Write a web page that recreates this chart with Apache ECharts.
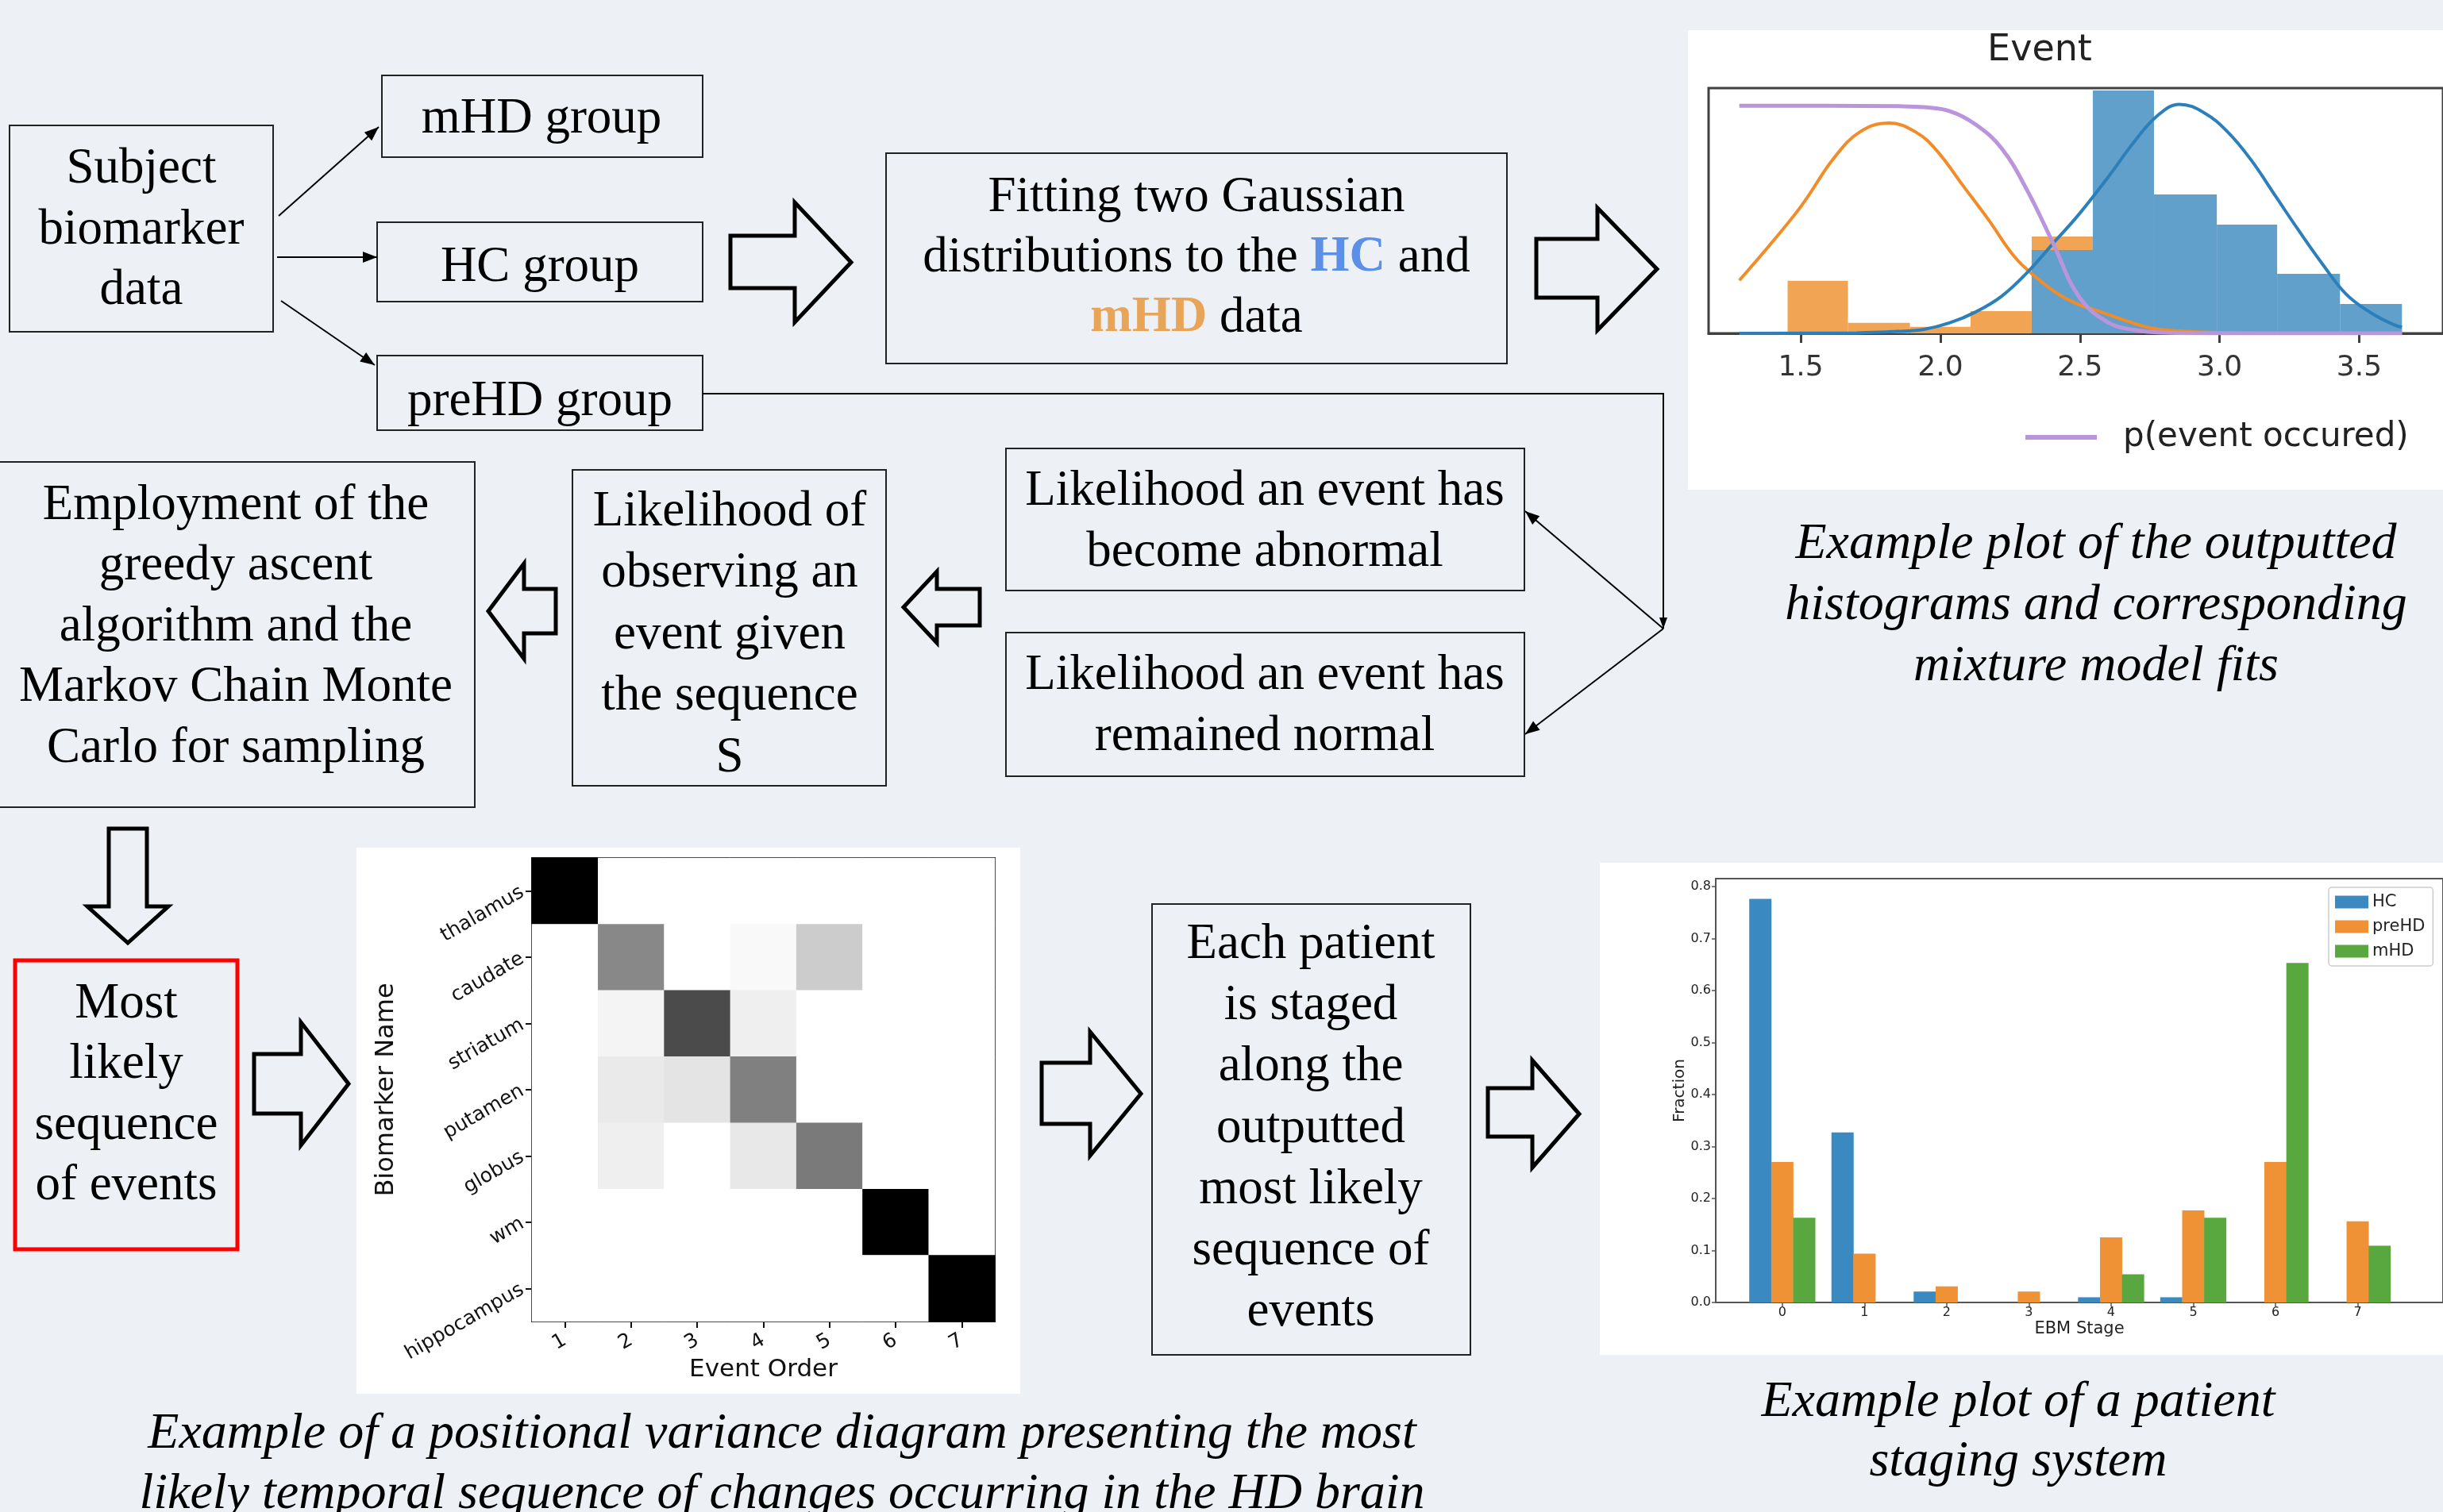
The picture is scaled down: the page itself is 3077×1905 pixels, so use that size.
<!DOCTYPE html>
<html>
<head>
<meta charset="utf-8">
<script src="https://cdn.jsdelivr.net/npm/echarts@6/dist/echarts.min.js"></script>
<style>
  html, body { margin: 0; padding: 0; background: #edf1f6; }
  #main { width: 3077px; height: 1905px; }
</style>
</head>
<body>
<div id="main"></div>
<script>
// ---------- Mixture-model histogram (one biomarker event) ----------
const histTicks = [1.5, 2.0, 2.5, 3.0, 3.5];
const hcBinEdges = [2.327, 2.546, 2.765, 2.990, 3.206, 3.431, 3.653];
const hcBinHeights = [0.34, 0.99, 0.566, 0.443, 0.243, 0.12];
const mhdBinEdges = [1.453, 1.669, 1.891, 2.108, 2.327, 2.546];
const mhdBinHeights = [0.214, 0.043, 0.027, 0.091, 0.395];
const mhdFitCurve = [[1.28, 0.216], [1.386, 0.356], [1.479, 0.485], [1.525, 0.557], [1.617, 0.712], [1.710, 0.820],
  [1.816, 0.858], [1.913, 0.820], [1.988, 0.744], [2.080, 0.604], [2.172, 0.464], [2.265, 0.313], [2.339, 0.232],
  [2.422, 0.16], [2.5, 0.115], [2.555, 0.095], [2.69, 0.042], [2.775, 0.018], [2.944, 0.005], [3.2, 0.0], [3.653, 0.0]];
const hcFitCurve = [[1.28, 0.0], [1.7, 0.002], [1.85, 0.008], [1.941, 0.016], [2.034, 0.043], [2.126, 0.087],
  [2.219, 0.151], [2.311, 0.248], [2.404, 0.367], [2.496, 0.485], [2.606, 0.645], [2.69, 0.775], [2.775, 0.885],
  [2.856, 0.934], [2.944, 0.90], [3.03, 0.82], [3.114, 0.705], [3.2, 0.56], [3.283, 0.42], [3.37, 0.28],
  [3.453, 0.16], [3.54, 0.085], [3.622, 0.036], [3.653, 0.025]];
const pEventCurve = [[1.28, 0.928], [1.6, 0.928], [1.85, 0.926], [1.941, 0.922], [2.034, 0.906], [2.126, 0.852],
  [2.219, 0.755], [2.311, 0.583], [2.404, 0.367], [2.496, 0.15], [2.6, 0.045], [2.7, 0.013], [2.8, 0.003],
  [3.0, 0.0], [3.653, 0.0]];

// ---------- Positional variance diagram ----------
const biomarkers = ['thalamus', 'caudate', 'striatum', 'putamen', 'globus', 'wm', 'hippocampus'];
const eventOrder = ['1', '2', '3', '4', '5', '6', '7'];
const positionalVariance = [
  [1, 0, 0, 0, 0, 0, 0],
  [0, 0.55, 0, 0.05, 0.31, 0, 0],
  [0, 0.09, 0.77, 0.13, 0, 0, 0],
  [0, 0.16, 0.19, 0.58, 0, 0, 0],
  [0, 0.13, 0, 0.17, 0.60, 0, 0],
  [0, 0, 0, 0, 0, 1, 0],
  [0, 0, 0, 0, 0, 0, 1]
];

// ---------- Patient staging ----------
const stages = [0, 1, 2, 3, 4, 5, 6, 7];
const fractionTicks = [0, 0.1, 0.2, 0.3, 0.4, 0.5, 0.6, 0.7, 0.8];
const hcFraction = [0.776, 0.327, 0.021, 0, 0.010, 0.010, 0, 0];
const preHDFraction = [0.270, 0.094, 0.031, 0.021, 0.125, 0.177, 0.270, 0.156];
const mHDFraction = [0.163, 0, 0, 0, 0.054, 0.163, 0.653, 0.109];

// ---------- layout / style constants ----------
const BG = '#edf1f6';
const SERIF = '"Liberation Serif", "Times New Roman", serif';
const SANS = '"DejaVu Sans", sans-serif';
const BOX_FONT = 63, BOX_LH = 76.5, CAPTION_FONT = 64;
const groupOffset = { HC: -0.267, preHD: 0, mHD: 0.267 };
const greys = ['#ffffff', '#f0f0f0', '#d9d9d9', '#bdbdbd', '#969696', '#737373', '#525252', '#252525', '#000000'];

function text(x, y, str, extra) {
  return { type: 'text', x: x, y: y, z: 10,
    style: Object.assign({ text: str, fill: '#000', fontSize: BOX_FONT, fontFamily: SERIF,
      textAlign: 'center', textVerticalAlign: 'middle' }, extra || {}) };
}
function lines(cx, cy, arr, lh, extra) {
  const n = arr.length;
  return arr.map((s, i) => text(cx, cy + (i - (n - 1) / 2) * lh, s, extra));
}
function rect(x, y, w, h, stroke, lw) {
  return { type: 'rect', z: 10, shape: { x: x, y: y, width: w, height: h },
    style: { fill: 'none', stroke: stroke || '#222', lineWidth: lw || 2 } };
}
function panel(x, y, w, h) {
  return { type: 'rect', z: -1, shape: { x: x, y: y, width: w, height: h }, style: { fill: '#ffffff' } };
}
function poly(points) {
  return { type: 'polygon', z: 10, shape: { points: points },
    style: { fill: 'none', stroke: '#000', lineWidth: 5, lineJoin: 'miter' } };
}
function blockRight(x0, xb, xt, by0, by1, hy0, hy1) {
  const m = (hy0 + hy1) / 2;
  return poly([[x0, by0], [xb, by0], [xb, hy0], [xt, m], [xb, hy1], [xb, by1], [x0, by1]]);
}
function blockLeft(xt, xb, x1, by0, by1, hy0, hy1) {
  const m = (hy0 + hy1) / 2;
  return poly([[x1, by0], [xb, by0], [xb, hy0], [xt, m], [xb, hy1], [xb, by1], [x1, by1]]);
}
function blockDown(bx0, bx1, y0, yb, yt, hx0, hx1) {
  const m = (hx0 + hx1) / 2;
  return poly([[bx0, y0], [bx1, y0], [bx1, yb], [hx1, yb], [m, yt], [hx0, yb], [bx0, yb]]);
}
function thinArrow(pts, headLen, headHalf) {
  const out = [{ type: 'polyline', z: 10, shape: { points: pts }, style: { fill: 'none', stroke: '#000', lineWidth: 2 } }];
  const a = pts[pts.length - 2], b = pts[pts.length - 1];
  const dx = b[0] - a[0], dy = b[1] - a[1], L = Math.hypot(dx, dy);
  const ux = dx / L, uy = dy / L, px = -uy, py = ux;
  const hl = headLen || 18, hw = headHalf || 7;
  const bx = b[0] - ux * hl, by = b[1] - uy * hl;
  out.push({ type: 'polygon', z: 10, shape: { points: [b, [bx + px * hw, by + py * hw], [bx - px * hw, by - py * hw]] },
    style: { fill: '#000', stroke: 'none' } });
  return out;
}

const graphics = [].concat(
  // white plot panels
  panel(2126, 38, 960, 579),
  panel(449, 1068, 836, 688),
  panel(2015, 1087, 1070, 620),

  // subject data and the three groups
  rect(12, 158, 332, 260), lines(178, 290, ['Subject', 'biomarker', 'data'], BOX_LH),
  rect(481, 95, 404, 103), text(682, 150, 'mHD group'),
  rect(475, 280, 410, 100), text(680, 337, 'HC group'),
  rect(475, 448, 410, 94), text(680, 506, 'preHD group'),
  thinArrow([[351, 272], [477, 160]]),
  thinArrow([[349, 324], [475, 324]]),
  thinArrow([[354, 379], [472, 460]]),

  // Gaussian fitting
  blockRight(920, 1001, 1072, 297, 363, 255, 406),
  rect(1116, 193, 782, 265),
  text(1507, 249, 'Fitting two Gaussian'),
  text(1507, 325, 'distributions to the {hc|HC} and', {
    rich: { hc: { fill: '#5b8fe8', fontWeight: 'bold', fontSize: BOX_FONT, fontFamily: SERIF } } }),
  text(1507, 401, '{mhd|mHD} data', {
    rich: { mhd: { fill: '#e8a457', fontWeight: 'bold', fontSize: BOX_FONT, fontFamily: SERIF } } }),
  blockRight(1935, 2012, 2087, 301, 375, 262, 416),

  // preHD feed into the two likelihoods
  thinArrow([[885, 496], [2095, 496], [2095, 792]], 14, 5),
  thinArrow([[2095, 792], [1921, 644]]),
  thinArrow([[2095, 792], [1921, 925]]),
  rect(1267, 565, 653, 179), lines(1593, 658, ['Likelihood an event has', 'become abnormal'], BOX_LH),
  rect(1267, 797, 653, 181), lines(1593, 890, ['Likelihood an event has', 'remained normal'], BOX_LH),
  blockLeft(1138, 1180, 1234, 742, 788, 720, 810),
  rect(721, 592, 395, 398),
  lines(919, 800, ['Likelihood of', 'observing an', 'event given', 'the sequence', 'S'], 77.5),
  blockLeft(615, 660, 700, 742, 798, 710, 830),
  rect(-3, 582, 601, 435),
  lines(297, 790, ['Employment of the', 'greedy ascent', 'algorithm and the', 'Markov Chain Monte', 'Carlo for sampling'], BOX_LH),

  // most likely sequence and staging
  blockDown(137, 185, 1044, 1142, 1188, 110, 212),
  rect(19, 1210, 280, 364, '#ff0000', 5),
  lines(159, 1380, ['Most', 'likely', 'sequence', 'of events'], BOX_LH),
  blockRight(320, 379, 439, 1328, 1403, 1288, 1443),
  blockRight(1312, 1373, 1437, 1339, 1416, 1300, 1456),
  rect(1451, 1139, 401, 568),
  lines(1651, 1422, ['Each patient', 'is staged', 'along the', 'outputted', 'most likely', 'sequence of', 'events'], 77.3),
  blockRight(1874, 1930, 1989, 1371, 1432, 1336, 1471),

  // plot title and captions
  text(2569, 64, 'Event', { fontFamily: SANS, fontSize: 46, fill: '#222' }),
  lines(2640, 763, ['Example plot of the outputted', 'histograms and corresponding', 'mixture model fits'], 77,
    { fontStyle: 'italic', fontSize: CAPTION_FONT }),
  lines(985, 1845, ['Example of a positional variance diagram presenting the most',
    'likely temporal sequence of changes occurring in the HD brain'], 76, { fontStyle: 'italic', fontSize: CAPTION_FONT }),
  lines(2542, 1805, ['Example plot of a patient', 'staging system'], 75, { fontStyle: 'italic', fontSize: CAPTION_FONT })
);

function binRenderer(color) {
  return function (params, api) {
    const a = api.coord([api.value(0), api.value(2)]);
    const b = api.coord([api.value(1), 0]);
    return { type: 'rect', shape: { x: a[0], y: a[1], width: b[0] - a[0], height: b[1] - a[1] },
      style: { fill: color } };
  };
}
function barData(values, offset) {
  return values.map((v, i) => [stages[i] + offset, v]);
}

const heatData = [];
positionalVariance.forEach((row, r) => row.forEach((v, c) => heatData.push([c, r, v])));

const chart = echarts.init(document.getElementById('main'), null, { renderer: 'canvas' });
chart.setOption({
  backgroundColor: BG,
  animation: false,
  grid: [
    { left: 2152, top: 111, width: 948, height: 309, show: true, borderColor: '#404040', borderWidth: 3, backgroundColor: 'transparent' },
    { left: 670, top: 1081, width: 583, height: 584, show: true, borderColor: '#111', borderWidth: 2, backgroundColor: 'transparent' },
    { left: 2161, top: 1107, width: 929, height: 534, show: true, borderColor: '#555', borderWidth: 2, backgroundColor: 'transparent' }
  ],
  xAxis: [
    { type: 'value', gridIndex: 0, min: 1.17, max: 3.80, splitLine: { show: false },
      axisLine: { show: true, onZero: false, lineStyle: { color: '#404040', width: 3 } },
      axisTick: { show: true, customValues: histTicks, length: 12, lineStyle: { color: '#404040', width: 3 } },
      axisLabel: { customValues: histTicks, formatter: v => v.toFixed(1), fontSize: 36, fontFamily: SANS, color: '#333', margin: 26 } },
    { type: 'category', gridIndex: 1, data: eventOrder, axisLine: { show: false, onZero: false },
      axisTick: { show: true, alignWithLabel: true, length: 8, lineStyle: { color: '#111', width: 2 } },
      axisLabel: { rotate: 30, fontSize: 25, fontFamily: SANS, color: '#111', margin: 22 },
      name: 'Event Order', nameLocation: 'middle', nameGap: 45,
      nameTextStyle: { fontSize: 31, fontFamily: SANS, color: '#111' } },
    { type: 'value', gridIndex: 2, min: -0.81, max: 8.038, splitLine: { show: false },
      axisLine: { show: true, onZero: false, lineStyle: { color: '#555', width: 2 } },
      axisTick: { show: true, customValues: stages, length: 5, lineStyle: { color: '#555', width: 1.5 } },
      axisLabel: { customValues: stages, fontSize: 16, fontFamily: SANS, color: '#222', margin: 5 },
      name: 'EBM Stage', nameLocation: 'middle', nameGap: 23,
      nameTextStyle: { fontSize: 21, fontFamily: SANS, color: '#222' } }
  ],
  yAxis: [
    { type: 'value', gridIndex: 0, min: 0, max: 1, show: true, axisLine: { show: false, onZero: false }, axisTick: { show: false },
      axisLabel: { show: false }, splitLine: { show: false } },
    { type: 'category', gridIndex: 1, data: biomarkers, inverse: true, axisLine: { show: false, onZero: false },
      axisTick: { show: true, alignWithLabel: true, length: 8, lineStyle: { color: '#111', width: 2 } },
      axisLabel: { rotate: 30, fontSize: 25, fontFamily: SANS, color: '#111', margin: 12 },
      name: 'Biomarker Name', nameLocation: 'middle', nameGap: 165,
      nameTextStyle: { fontSize: 32, fontFamily: SANS, color: '#111' } },
    { type: 'value', gridIndex: 2, min: 0, max: 0.815, splitLine: { show: false },
      axisLine: { show: true, onZero: false, lineStyle: { color: '#555', width: 2 } },
      axisTick: { show: true, customValues: fractionTicks, length: 5, lineStyle: { color: '#555', width: 1.5 } },
      axisLabel: { customValues: fractionTicks, formatter: v => v.toFixed(1), fontSize: 16, fontFamily: SANS, color: '#222', margin: 6 },
      name: 'Fraction', nameLocation: 'middle', nameGap: 32,
      nameTextStyle: { fontSize: 20, fontFamily: SANS, color: '#222' } }
  ],
  legend: [
    { data: [{ name: 'p(event occured)', icon: 'rect' }], left: 2551, top: 530, padding: 0,
      itemWidth: 90, itemHeight: 6, selectedMode: false,
      textStyle: { fontSize: 42, fontFamily: SANS, color: '#222', padding: [0, 0, 0, 28] } },
    { data: ['HC', 'preHD', 'mHD'], orient: 'vertical', left: 2933, top: 1118, icon: 'rect',
      itemWidth: 42, itemHeight: 16, itemGap: 10, padding: [8, 10, 8, 8], selectedMode: false,
      borderColor: '#cccccc', borderWidth: 1.5, borderRadius: 4, backgroundColor: '#ffffff',
      textStyle: { fontSize: 21, fontFamily: SANS, color: '#222' } }
  ],
  visualMap: { show: false, type: 'continuous', seriesIndex: 5, min: 0, max: 1, inRange: { color: greys } },
  series: [
    { name: 'mHD bins', type: 'custom', xAxisIndex: 0, yAxisIndex: 0, clip: true,
      renderItem: binRenderer('#f0a454'), encode: { x: [0, 1], y: 2 },
      data: mhdBinHeights.map((h, i) => [mhdBinEdges[i], mhdBinEdges[i + 1], h]) },
    { name: 'HC bins', type: 'custom', xAxisIndex: 0, yAxisIndex: 0, clip: true,
      renderItem: binRenderer('#61a0cb'), encode: { x: [0, 1], y: 2 },
      data: hcBinHeights.map((h, i) => [hcBinEdges[i], hcBinEdges[i + 1], h]) },
    { name: 'mHD fit', type: 'line', xAxisIndex: 0, yAxisIndex: 0, data: mhdFitCurve, smooth: 0.4,
      showSymbol: false, color: '#f28c28', lineStyle: { color: '#f28c28', width: 4 } },
    { name: 'HC fit', type: 'line', xAxisIndex: 0, yAxisIndex: 0, data: hcFitCurve, smooth: 0.4,
      showSymbol: false, color: '#2b80bb', lineStyle: { color: '#2b80bb', width: 4 } },
    { name: 'p(event occured)', type: 'line', xAxisIndex: 0, yAxisIndex: 0, data: pEventCurve, smooth: 0.4,
      showSymbol: false, color: '#bb95dc', lineStyle: { color: '#bb95dc', width: 5 } },
    { name: 'positional variance', type: 'heatmap', xAxisIndex: 1, yAxisIndex: 1, data: heatData,
      emphasis: { disabled: true } },
    { name: 'HC', type: 'bar', xAxisIndex: 2, yAxisIndex: 2, data: barData(hcFraction, groupOffset.HC),
      barWidth: 28, barGap: '-100%', color: '#3a89c1' },
    { name: 'preHD', type: 'bar', xAxisIndex: 2, yAxisIndex: 2, data: barData(preHDFraction, groupOffset.preHD),
      barWidth: 28, barGap: '-100%', color: '#ef9236' },
    { name: 'mHD', type: 'bar', xAxisIndex: 2, yAxisIndex: 2, data: barData(mHDFraction, groupOffset.mHD),
      barWidth: 28, barGap: '-100%', color: '#58a83f' }
  ],
  graphic: { elements: graphics }
});
</script>
</body>
</html>
